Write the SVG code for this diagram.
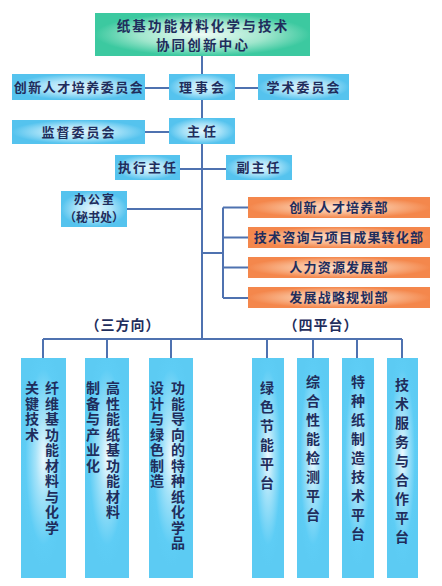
<svg xmlns="http://www.w3.org/2000/svg" width="442" height="586" viewBox="0 0 442 586">
<defs>
<radialGradient id="gGreen" cx="0.5" cy="0.5" r="0.5">
<stop offset="0" stop-color="#eefbf5"/><stop offset="0.6" stop-color="#9fe6cc"/><stop offset="1" stop-color="#3cc9a0"/>
</radialGradient>
<radialGradient id="gBlue" cx="0.5" cy="0.5" r="0.5">
<stop offset="0" stop-color="#e4f6fd"/><stop offset="0.55" stop-color="#a8e2f8"/><stop offset="1" stop-color="#55c3ee"/>
</radialGradient>
<radialGradient id="gCol" cx="0.5" cy="0.45" r="0.5">
<stop offset="0" stop-color="#eef9fe"/><stop offset="0.35" stop-color="#a6e3f9"/><stop offset="0.8" stop-color="#5ecdf5"/><stop offset="1" stop-color="#5ccbf3"/>
</radialGradient>
<radialGradient id="gOrange" cx="0.5" cy="0.5" r="0.5">
<stop offset="0" stop-color="#fde3d2"/><stop offset="0.55" stop-color="#f9b78e"/><stop offset="1" stop-color="#f4874c"/>
</radialGradient>
</defs>
<style>
.t{font-family:"Noto Sans CJK SC","Noto Sans CJK JP",sans-serif;font-weight:bold;fill:#1f2d5c;font-size:13px;text-anchor:middle}
.v{font-family:"Noto Sans CJK SC","Noto Sans CJK JP",sans-serif;font-weight:bold;fill:#1f2d5c;font-size:14px;writing-mode:vertical-rl}
.vl{letter-spacing:1.5px}
.vr{letter-spacing:5px}
.c{stroke:#4f72b0;stroke-width:2;fill:none}
</style>
<g id="connectors">
<path class="c" d="M202 56V339M145 88H169M235 88H258M145 132H169M180 169H226M127 209H202M202 253H223M223 207.5V298M223 207.5H248M223 237.5H248M223 267.5H248M223 298H248M43 339H402M43 339V358M107 339V358M171 339V358M267 339V358M313 339V358M357 339V358M402 339V358"/>
</g>
<g id="center"><rect x="95" y="13" width="215" height="43" fill="url(#gGreen)"/>
<text class="t" x="203" y="31" style="font-size:13.5px;letter-spacing:2.2px">纸基功能材料化学与技术</text>
<text class="t" x="203" y="50" style="font-size:13.5px;letter-spacing:2.2px">协同创新中心</text></g>
<g id="talent"><rect x="12" y="74" width="133" height="26" fill="url(#gBlue)"/><text class="t" x="79" y="92" style="letter-spacing:1.5px">创新人才培养委员会</text></g>
<g id="board"><rect x="169" y="74" width="66" height="26" fill="url(#gBlue)"/><text class="t" x="203" y="92" style="letter-spacing:3px">理事会</text></g>
<g id="academic"><rect x="258" y="74" width="91" height="26" fill="url(#gBlue)"/><text class="t" x="304" y="92" style="letter-spacing:2px">学术委员会</text></g>
<g id="supervise"><rect x="12" y="120" width="133" height="24" fill="url(#gBlue)"/><text class="t" x="79" y="137" style="letter-spacing:2px">监督委员会</text></g>
<g id="director"><rect x="169" y="118" width="66" height="26" fill="url(#gBlue)"/><text class="t" x="203" y="136" style="letter-spacing:3px">主任</text></g>
<g id="exec"><rect x="115" y="155" width="65" height="25" fill="url(#gBlue)"/><text class="t" x="148" y="172" style="letter-spacing:2px">执行主任</text></g>
<g id="deputy"><rect x="226" y="155" width="66" height="25" fill="url(#gBlue)"/><text class="t" x="259" y="172" style="letter-spacing:2px">副主任</text></g>
<g id="office"><rect x="61" y="191" width="66" height="36" fill="url(#gBlue)"/><text class="t" x="95" y="203.5" style="font-size:12px;letter-spacing:2px">办公室</text><text class="t" x="94" y="221.5" style="font-size:12px">（秘书处）</text></g>
<g id="d1"><rect x="248" y="197" width="182" height="21" fill="url(#gOrange)"/><text class="t" x="339" y="212" style="letter-spacing:1.2px">创新人才培养部</text></g>
<g id="d2"><rect x="248" y="227" width="182" height="21" fill="url(#gOrange)"/><text class="t" x="339" y="242" style="letter-spacing:1.2px">技术咨询与项目成果转化部</text></g>
<g id="d3"><rect x="248" y="257" width="182" height="21" fill="url(#gOrange)"/><text class="t" x="339" y="272" style="letter-spacing:1.2px">人力资源发展部</text></g>
<g id="d4"><rect x="248" y="287" width="182" height="21" fill="url(#gOrange)"/><text class="t" x="339" y="302" style="letter-spacing:1.2px">发展战略规划部</text></g>
<g id="lbl3"><text class="t" x="123" y="330" style="font-size:14px;letter-spacing:1px">（三方向）</text></g>
<g id="lbl4"><text class="t" x="321" y="330" style="font-size:14px;letter-spacing:1px">（四平台）</text></g>
<g id="c1"><rect x="21" y="358" width="45" height="220" fill="url(#gCol)"/>
<text class="v vl" x="52" y="381">纤维基功能材料与化学</text><text class="v vl" x="32" y="381">关键技术</text></g>
<g id="c2"><rect x="85" y="358" width="44" height="220" fill="url(#gCol)"/>
<text class="v vl" x="113" y="381">高性能纸基功能材料</text><text class="v vl" x="93" y="381">制备与产业化</text></g>
<g id="c3"><rect x="149" y="358" width="44" height="220" fill="url(#gCol)"/>
<text class="v vl" x="178" y="381">功能导向的特种纸化学品</text><text class="v vl" x="157" y="381">设计与绿色制造</text></g>
<g id="p1"><rect x="252" y="358" width="32" height="220" fill="url(#gCol)"/><text class="v vr" x="267" y="381">绿色节能平台</text></g>
<g id="p2"><rect x="297" y="358" width="32" height="220" fill="url(#gCol)"/><text class="v vr" x="313" y="375">综合性能检测平台</text></g>
<g id="p3"><rect x="342" y="358" width="32" height="220" fill="url(#gCol)"/><text class="v vr" x="358" y="375">特种纸制造技术平台</text></g>
<g id="p4"><rect x="387" y="358" width="31" height="220" fill="url(#gCol)"/><text class="v vr" x="402" y="378">技术服务与合作平台</text></g>
</svg>
